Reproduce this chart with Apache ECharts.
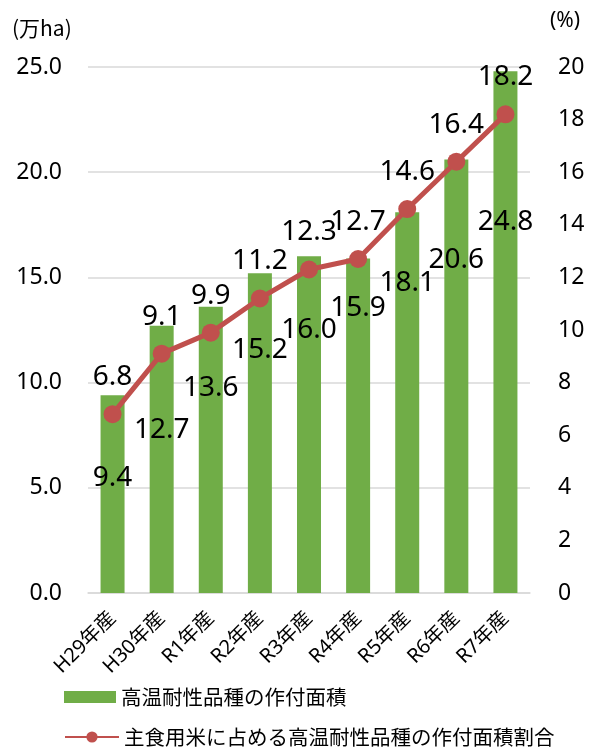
<!DOCTYPE html>
<html>
<head>
<meta charset="utf-8">
<script src="https://cdn.jsdelivr.net/npm/echarts@6/dist/echarts.min.js"></script>
<style>
html,body{margin:0;padding:0;background:#fff;}
#c{width:591px;height:752px;}
</style>
</head>
<body>
<div id="c"></div>
<script>
const categories = ['H29年産','H30年産','R1年産','R2年産','R3年産','R4年産','R5年産','R6年産','R7年産'];
const areaValues = [9.4, 12.7, 13.6, 15.2, 16.0, 15.9, 18.1, 20.6, 24.8];
const shareValues = [6.8, 9.1, 9.9, 11.2, 12.3, 12.7, 14.6, 16.4, 18.2];
const leftTicks = {min: 0, max: 25, interval: 5};
const rightTicks = {min: 0, max: 20, interval: 2};
const seriesNames = ['高温耐性品種の作付面積', '主食用米に占める高温耐性品種の作付面積割合'];
const unitLeft = '(万ha)';
const unitRight = '(%)';

// manual label placement (pixels below bar top), emulating the reference layout
const barLabelGap = [69, 90, 67, 63, 60, 36, 57, 86, 137];

const FONT = "'Noto Sans', 'Noto Sans CJK JP', sans-serif";
const CJK = "'Noto Sans CJK JP', sans-serif";
const GREEN = '#70AD47';
const RED = '#C0504D';

const legendText = {fontFamily: CJK, fontSize: 20.5, color: '#000', lineHeight: 22};

const chart = echarts.init(document.getElementById('c'), null, {renderer: 'canvas'});
chart.setOption({
  animation: false,
  textStyle: {fontFamily: FONT, color: '#000'},
  grid: {left: 88, right: 61, top: 67, bottom: 159, containLabel: false},
  graphic: [
    {type: 'text', left: 12, top: 18, style: {text: unitLeft, font: "21px 'Noto Sans CJK JP', sans-serif", fill: '#000'}},
    {type: 'text', left: 550, top: 11, style: {text: unitRight, font: "21px 'Noto Sans', sans-serif", fill: '#000'}}
  ],
  legend: [
    {
      left: 64, top: 686, padding: 0,
      itemWidth: 52, itemHeight: 12,
      textStyle: legendText,
      data: [{name: seriesNames[0], icon: 'rect'}]
    },
    {
      left: 64, top: 726, padding: 0,
      itemWidth: 54, itemHeight: 14,
      textStyle: legendText,
      data: [{name: seriesNames[1]}]
    }
  ],
  xAxis: {
    type: 'category',
    data: categories,
    axisTick: {show: false},
    axisLine: {lineStyle: {color: '#D9D9D9', width: 1.5}},
    axisLabel: {rotate: 45, margin: 22, fontSize: 20, color: '#000', fontFamily: FONT, interval: 0}
  },
  yAxis: [
    {
      type: 'value',
      min: leftTicks.min, max: leftTicks.max, interval: leftTicks.interval,
      axisLine: {show: false}, axisTick: {show: false},
      splitLine: {lineStyle: {color: '#D9D9D9', width: 1.5}},
      axisLabel: {margin: 26, fontSize: 23, color: '#000', fontFamily: FONT, formatter: v => v.toFixed(1)}
    },
    {
      type: 'value',
      min: rightTicks.min, max: rightTicks.max, interval: rightTicks.interval,
      axisLine: {show: false}, axisTick: {show: false},
      splitLine: {show: false},
      axisLabel: {margin: 28, fontSize: 23, color: '#000', fontFamily: FONT}
    }
  ],
  series: [
    {
      name: seriesNames[0],
      type: 'bar',
      yAxisIndex: 0,
      barWidth: 24,
      itemStyle: {color: GREEN},
      data: areaValues.map((v, i) => ({
        value: v,
        label: {show: true, position: 'insideTop', distance: barLabelGap[i]}
      })),
      label: {show: true, fontSize: 28, color: '#000', fontFamily: FONT, formatter: p => p.value.toFixed(1)},
      z: 2
    },
    {
      name: seriesNames[1],
      type: 'line',
      yAxisIndex: 1,
      data: shareValues,
      symbol: 'circle',
      symbolSize: 18,
      lineStyle: {color: RED, width: 5},
      itemStyle: {color: RED},
      label: {show: true, position: 'top', distance: 14, fontSize: 28, color: '#000', fontFamily: FONT, formatter: p => p.value.toFixed(1)},
      z: 3
    }
  ]
});
</script>
</body>
</html>
